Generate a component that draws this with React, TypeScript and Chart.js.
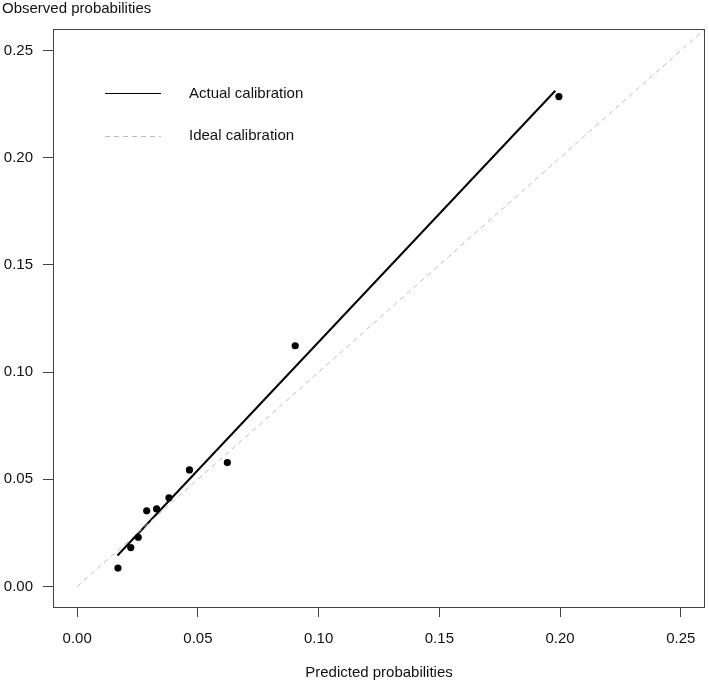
import React, { useEffect, useRef } from "react";
import { Chart, registerables } from "chart.js";

Chart.register(...registerables);

const predicted = [0.0169, 0.0222, 0.0253, 0.0288, 0.0329, 0.038, 0.0465, 0.0622, 0.0903, 0.1995];
const observed = [0.0086, 0.0182, 0.023, 0.0353, 0.0362, 0.0414, 0.0544, 0.0578, 0.1123, 0.2285];
const actualLineX = [0.0167, 0.198];
const actualLineY = [0.0145, 0.2312];
const idealLineX = [0, 0.26];
const idealLineY = [0, 0.26];
const tickValues = [0, 0.05, 0.1, 0.15, 0.2, 0.25];
const legendLabels = ["Actual calibration", "Ideal calibration"];
const xTitle = "Predicted probabilities";
const yTitle = "Observed probabilities";

const FONT = "'Liberation Sans', Arial, Helvetica, sans-serif";
const AXIS_COLOR = "#444444";
const IDEAL_COLOR = "#bbbbbb";

export default function App() {
  const ref = useRef<HTMLCanvasElement | null>(null);

  useEffect(() => {
    document.body.style.margin = "0";
    const canvas = ref.current;
    if (!canvas) return;

    const decor = {
      id: "decor",
      afterDraw(chart: any) {
        const ctx = chart.ctx;
        const a = chart.chartArea;
        ctx.save();
        // box
        ctx.strokeStyle = AXIS_COLOR;
        ctx.lineWidth = 1;
        ctx.strokeRect(Math.round(a.left) + 0.5, Math.round(a.top) + 0.5, Math.round(a.right - a.left) - 1, Math.round(a.bottom - a.top) - 1);
        // titles
        ctx.fillStyle = "#111111";
        ctx.font = `15px ${FONT}`;
        ctx.textBaseline = "alphabetic";
        ctx.textAlign = "left";
        ctx.fillText(yTitle, 2, 13);
        ctx.textAlign = "center";
        ctx.fillText(xTitle, (a.left + a.right) / 2, 677);
        // legend
        ctx.textAlign = "left";
        ctx.textBaseline = "middle";
        ctx.strokeStyle = "#000000";
        ctx.lineWidth = 1.2;
        ctx.beginPath();
        ctx.moveTo(105, 93.5);
        ctx.lineTo(161, 93.5);
        ctx.stroke();
        ctx.fillText(legendLabels[0], 189, 94);
        ctx.strokeStyle = IDEAL_COLOR;
        ctx.lineWidth = 1;
        ctx.setLineDash([5, 4]);
        ctx.beginPath();
        ctx.moveTo(105, 136.5);
        ctx.lineTo(161, 136.5);
        ctx.stroke();
        ctx.setLineDash([]);
        ctx.fillText(legendLabels[1], 189, 136);
        ctx.restore();
      },
    };

    const setTicks = (scale: any) => {
      scale.ticks = tickValues.map((v) => ({ value: v }));
    };

    const chart = new Chart(canvas, {
      type: "scatter",
      data: {
        datasets: [
          {
            type: "line",
            data: idealLineX.map((x, i) => ({ x, y: idealLineY[i] })),
            borderColor: IDEAL_COLOR,
            borderWidth: 1,
            borderDash: [5, 4],
            pointRadius: 0,
            fill: false,
          } as any,
          {
            type: "line",
            data: actualLineX.map((x, i) => ({ x, y: actualLineY[i] })),
            borderColor: "#000000",
            borderWidth: 2,
            pointRadius: 0,
            fill: false,
          } as any,
          {
            type: "scatter",
            data: predicted.map((x, i) => ({ x, y: observed[i] })),
            backgroundColor: "#000000",
            borderColor: "#000000",
            pointRadius: 3.6,
            borderWidth: 0,
          } as any,
        ],
      },
      options: {
        animation: false,
        responsive: false,
        maintainAspectRatio: false,
        layout: { padding: { top: 29, right: 2, left: 0, bottom: 0 } },
        plugins: {
          legend: { display: false },
          tooltip: { enabled: false },
        },
        scales: {
          x: {
            type: "linear",
            min: -0.01,
            max: 0.26,
            afterBuildTicks: setTicks,
            afterFit: (scale: any) => {
              scale.height = 75;
            },
            grid: {
              display: true,
              drawOnChartArea: false,
              drawTicks: true,
              tickLength: 9,
              color: AXIS_COLOR,
            },
            border: { display: false },
            ticks: {
              padding: 13,
              color: "#111111",
              font: { family: FONT, size: 15 },
              maxRotation: 0,
              callback: (v: any) => Number(v).toFixed(2),
            },
          },
          y: {
            type: "linear",
            min: -0.01,
            max: 0.26,
            afterBuildTicks: setTicks,
            afterFit: (scale: any) => {
              scale.width = 53;
            },
            grid: {
              display: true,
              drawOnChartArea: false,
              drawTicks: true,
              tickLength: 10,
              color: AXIS_COLOR,
            },
            border: { display: false },
            ticks: {
              padding: 10,
              color: "#111111",
              font: { family: FONT, size: 15 },
              callback: (v: any) => Number(v).toFixed(2),
            },
          },
        },
      },
      plugins: [decor],
    });

    return () => chart.destroy();
  }, []);

  return (
    <div style={{ position: "absolute", left: 0, top: 0, width: 709, height: 683 }}>
      <canvas ref={ref} width={709} height={683} style={{ width: 709, height: 683, display: "block" }} />
    </div>
  );
}
